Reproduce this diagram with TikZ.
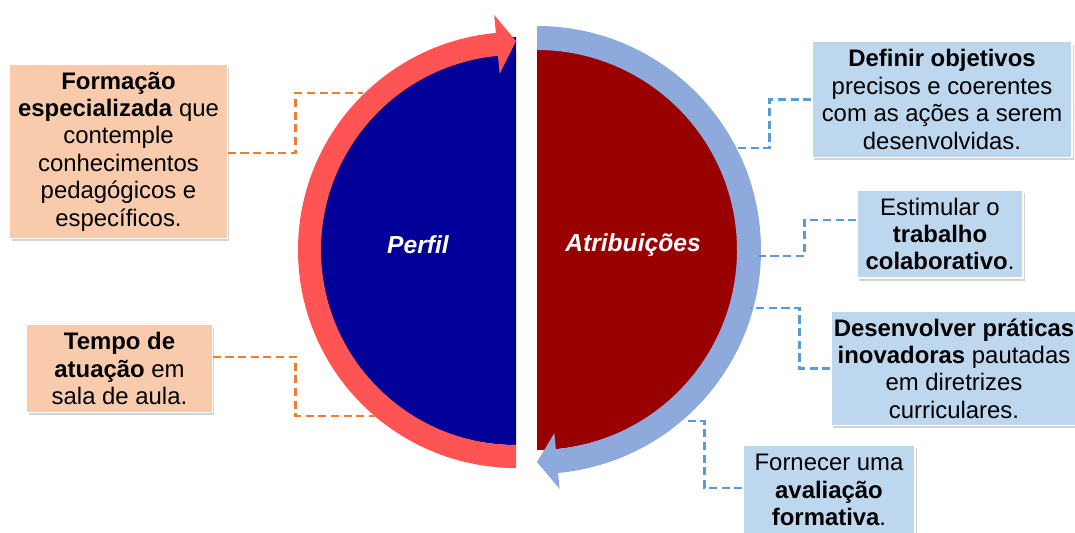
\documentclass[tikz,border=0pt]{standalone}
\usepackage{fontspec}
\setmainfont{Liberation Sans}
\usetikzlibrary{calc,positioning,shadows}

\definecolor{perfilblue}{HTML}{000099}
\definecolor{atribred}{HTML}{990000}
\definecolor{arrowred}{HTML}{FF5454}
\definecolor{arrowblue}{HTML}{8EA9DB}
\definecolor{peach}{HTML}{F8CBAD}
\definecolor{paleblue}{HTML}{BDD7EE}
\definecolor{dashorange}{HTML}{ED7D31}
\definecolor{dashblue}{HTML}{5B9BD5}

\begin{document}
\begin{tikzpicture}[x=0.025cm,y=-0.025cm,
    box/.style={align=center,inner sep=2pt,draw=white,line width=0.8pt,
      font=\fontsize{17}{19.5}\selectfont,
      drop shadow={shadow xshift=1.5pt,shadow yshift=-2pt,opacity=0.35}},
    peachbox/.style={box,fill=peach},
    bluebox/.style={box,fill=paleblue},
    orangelink/.style={dashorange,line width=1.8pt,dash pattern=on 5.8pt off 3.2pt},
    bluelink/.style={dashblue,line width=1.8pt,dash pattern=on 5.8pt off 3.2pt},
    discfont/.style={white,font=\fontsize{17.5}{20}\selectfont\bfseries\itshape}]
    \useasboundingbox (0,0) rectangle (1075,532);
    \begin{scope}[shift={(516,241)},yscale=-1]
      \fill[perfilblue] (90:204) arc[start angle=90,end angle=270,radius=204] -- cycle;
    \end{scope}
    \begin{scope}[shift={(537,248)},yscale=-1]
      \fill[atribred] (90:202) arc[start angle=90,end angle=-90,radius=202] -- cycle;
    \end{scope}
    \begin{scope}[shift={(516,250)},yscale=-1]
      \fill[arrowred] (270:218) arc[start angle=270,end angle=95.3,radius=218]
        -- (95.3:236) -- (90:209) -- (95.3:177) -- (95.3:195)
        arc[start angle=95.3,end angle=270,radius=195] -- cycle;
    \end{scope}
    \begin{scope}[shift={(537,250)},yscale=-1]
      \fill[arrowblue] (90:224) arc[start angle=90,end angle=-84.6,radius=224]
        -- (-84.6:240) -- (-90:212) -- (-84.6:184) -- (-84.6:200)
        arc[start angle=-84.6,end angle=90,radius=200] -- cycle;
    \end{scope}
    \node[discfont] (perfil) at (418,245) {Perfil};
    \node[discfont] (atrib) at (633,245) {Atribuições};
    \node[peachbox,minimum width=5.43cm,minimum height=4.33cm] (form) at (118.5,151.5)
      {\textbf{Formação}\\\textbf{especializada} que\\contemple\\conhecimentos\\pedagógicos e\\específicos.};
    \node[peachbox,minimum width=4.63cm,minimum height=2.18cm] (tempo) at (119.5,368.5)
      {\textbf{Tempo de}\\\textbf{atuação} em\\sala de aula.};
    \node[bluebox,minimum width=6.5cm,minimum height=2.88cm] (defin) at (942,99.5)
      {\textbf{Definir objetivos}\\precisos e coerentes\\com as ações a serem\\desenvolvidas.};
    \node[bluebox,minimum width=4.15cm,minimum height=2.2cm] (estim) at (940,234)
      {Estimular o\\\textbf{trabalho}\\\textbf{colaborativo}.};
    \node[bluebox,minimum width=6.1cm,minimum height=2.83cm] (desenv) at (954,368.5)
      {\textbf{Desenvolver práticas}\\\textbf{inovadoras} pautadas\\em diretrizes\\curriculares.};
    \node[bluebox,minimum width=4.3cm,minimum height=2.25cm] (fornec) at (829,490)
      {Fornecer uma\\\textbf{avaliação}\\\textbf{formativa}.};
    \coordinate (c1) at (363,93);
    \coordinate (c2) at (375,416);
    \coordinate (c3) at (737,148);
    \coordinate (c4) at (755,256);
    \coordinate (c5) at (750,308);
    \coordinate (c6) at (688,421);
    \draw[orangelink] (form.east) ++(0,1.5) -- ++(68,0) |- (c1);
    \draw[orangelink] (tempo.east) ++(0,-11.5) -- ++(83,0) |- (c2);
    \draw[bluelink] (defin.west) -- ++(-42,0) |- (c3);
    \draw[bluelink] (estim.west) ++(0,-14) -- ++(-52,0) |- (c4);
    \draw[bluelink] (desenv.west) -- ++(-31,0) |- (c5);
    \draw[bluelink] (fornec.west) ++(0,-2) -- ++(-38,0) |- (c6);
\end{tikzpicture}
\end{document}
